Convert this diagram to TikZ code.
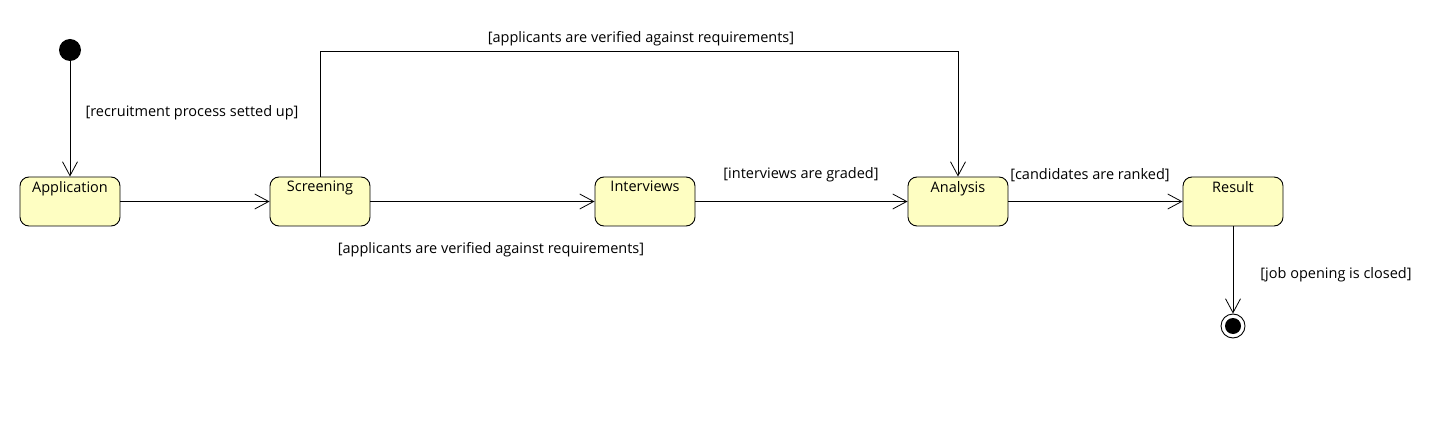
\documentclass[tikz,border=0pt]{standalone}
\usepackage{fontspec}
\setmainfont{Open Sans}
\usetikzlibrary{arrows.meta}
\definecolor{stfill}{RGB}{254,254,194}
\begin{document}
\begin{tikzpicture}[x=1pt,y=-1pt,
  statebox/.style={draw, rounded corners=9pt, fill=stfill, minimum width=100pt, minimum height=49pt, line width=0.9pt, inner sep=0pt,
     label={[anchor=north, yshift=-4.5pt, font=\fontsize{14.5}{16}\selectfont, inner sep=0pt]north:#1}},
  trans/.style={-{Straight Barb[length=14pt,width=15pt]}, line width=0.8pt},
  lbl/.style={font=\fontsize{14.5}{16}\selectfont, inner sep=0pt}]
\useasboundingbox (0,0) rectangle (1430,422);
\node[circle, fill=black, minimum size=22pt, inner sep=0pt] (init) at (70,50) {};
\node[statebox=Application] (app) at (70,201.5) {};
\node[statebox=Screening] (scr) at (320,201.5) {};
\node[statebox=Interviews] (int) at (645,201.5) {};
\node[statebox=Analysis] (ana) at (958,201.5) {};
\node[statebox=Result] (res) at (1233,201.5) {};
\node[circle, draw, line width=0.9pt, fill=white, minimum size=24pt, inner sep=0pt] (fin) at (1233,326) {};
\fill (fin.center) circle (8pt);
\coordinate (tr) at (958,51);
\draw[trans] (init) -- (app);
\draw[trans] (app) -- (scr);
\draw[trans] (scr) -- (int);
\draw[trans] (int) -- (ana);
\draw[trans] (ana) -- (res);
\draw[trans] (res) -- (fin);
\draw[trans] (scr.north) |- (tr) -- (ana.north);
\node[lbl] (l1) at (192,113) {[recruitment process setted up]};
\node[lbl] (l2) at (641,39) {[applicants are verified against requirements]};
\node[lbl] (l3) at (491,250) {[applicants are verified against requirements]};
\node[lbl] (l4) at (801,175) {[interviews are graded]};
\node[lbl] (l5) at (1090,175) {[candidates are ranked]};
\node[lbl] (l6) at (1336,275) {[job opening is closed]};
\end{tikzpicture}
\end{document}
